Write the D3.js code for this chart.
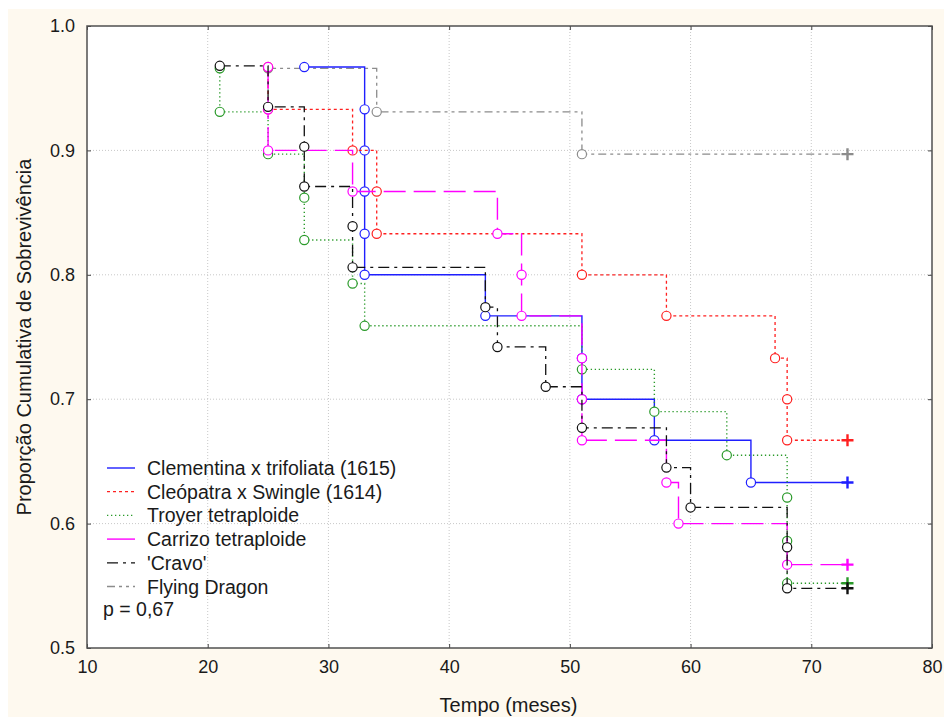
<!DOCTYPE html>
<html>
<head>
<meta charset="utf-8">
<script src="https://cdn.jsdelivr.net/npm/d3@7"></script>
<style>
  body { margin: 0; background: #fff; }
  text { font-family: "Liberation Sans", Arial, sans-serif; fill: #1a1a1a; }
</style>
</head>
<body>
<div id="chart"></div>
<script>
"use strict";

// x ticks, y ticks
var xTicks = [10, 20, 30, 40, 50, 60, 70, 80];
var yTicks = [0.5, 0.6, 0.7, 0.8, 0.9, 1.0];

var seriesNames = ["Clementina x trifoliata (1615)", "Cleópatra x Swingle (1614)", "Troyer tetraploide",
  "Carrizo tetraploide", "'Cravo'", "Flying Dragon"];

// event times (months) and survival after each event
var clemTimes = [28, 33, 33, 33, 33, 33, 43, 51, 51, 57, 65];
var clemVals = [0.967, 0.933, 0.9, 0.867, 0.833, 0.8, 0.767, 0.733, 0.7, 0.667, 0.633];
var cleoTimes = [25, 25, 32, 34, 34, 51, 58, 67, 68, 68];
var cleoVals = [0.967, 0.933, 0.9, 0.867, 0.833, 0.8, 0.767, 0.733, 0.7, 0.667];
var troyTimes = [21, 21, 25, 28, 28, 32, 33, 51, 57, 63, 68, 68, 68];
var troyVals = [0.966, 0.931, 0.897, 0.862, 0.828, 0.793, 0.759, 0.724, 0.690, 0.655, 0.621, 0.586, 0.552];
var carrTimes = [25, 25, 25, 32, 44, 46, 46, 51, 51, 51, 58, 59, 68];
var carrVals = [0.967, 0.933, 0.9, 0.867, 0.833, 0.8, 0.767, 0.733, 0.7, 0.667, 0.633, 0.6, 0.567];
var cravTimes = [21, 25, 28, 28, 32, 32, 43, 44, 48, 51, 58, 60, 68, 68];
var cravVals = [0.968, 0.935, 0.903, 0.871, 0.839, 0.806, 0.774, 0.742, 0.710, 0.677, 0.645, 0.613, 0.581, 0.548];
var flyTimes = [25, 34, 51];
var flyVals = [0.966, 0.931, 0.897];
var censorTime = 73;

var width = 944, height = 717;
var plot = {left: 87, right: 932, top: 26, bottom: 648};

var styles = [
  {color: "#1f1fff", dash: null, w: 1.4},
  {color: "#ff2020", dash: "3,3", w: 1.3},
  {color: "#2a9a2a", dash: "1.3,2.7", w: 1.4},
  {color: "#ff00ff", dash: "22,8", w: 1.4},
  {color: "#111111", dash: "11,5,3,5", w: 1.3},
  {color: "#8c8c8c", dash: "8,4,3,4,3,4", w: 1.3}
];

var allSeries = [
  {t: clemTimes, v: clemVals},
  {t: cleoTimes, v: cleoVals},
  {t: troyTimes, v: troyVals},
  {t: carrTimes, v: carrVals},
  {t: cravTimes, v: cravVals},
  {t: flyTimes, v: flyVals}
].map(function (s, i) {
  var pts = s.t.map(function (t, j) { return {t: t, v: s.v[j]}; });
  return {name: seriesNames[i], pts: pts, end: {t: censorTime, v: s.v[s.v.length - 1]}, style: styles[i]};
});

var x = d3.scaleLinear().domain([10, 80]).range([plot.left, plot.right]);
var y = d3.scaleLinear().domain([0.5, 1.0]).range([plot.bottom, plot.top]);

var svg = d3.select("#chart").append("svg").attr("width", width).attr("height", height);

svg.append("rect").attr("x", 8).attr("y", 9).attr("width", width - 8).attr("height", height - 9).attr("fill", "#fef9ef");
svg.append("rect").attr("x", plot.left).attr("y", plot.top).attr("width", plot.right - plot.left)
  .attr("height", plot.bottom - plot.top).attr("fill", "#fff");

// grid
var grid = svg.append("g").attr("stroke", "#c8c8c8").attr("stroke-dasharray", "1,2").attr("stroke-width", 1);
grid.selectAll(".gx").data(xTicks.slice(1, -1)).enter().append("line")
  .attr("x1", function (d) { return x(d); }).attr("x2", function (d) { return x(d); })
  .attr("y1", plot.top).attr("y2", plot.bottom);
grid.selectAll(".gy").data(yTicks.slice(1, -1)).enter().append("line")
  .attr("y1", function (d) { return y(d); }).attr("y2", function (d) { return y(d); })
  .attr("x1", plot.left).attr("x2", plot.right);

// axes
var xAxis = svg.append("g").attr("transform", "translate(0," + plot.bottom + ")")
  .call(d3.axisBottom(x).tickValues(xTicks).tickSize(-4).tickPadding(12).tickFormat(d3.format("d")));
var yAxis = svg.append("g").attr("transform", "translate(" + plot.left + ",0)")
  .call(d3.axisLeft(y).tickValues(yTicks).tickSize(-4).tickPadding(12).tickFormat(d3.format(".1f")));
var xTop = svg.append("g").attr("transform", "translate(0," + plot.top + ")")
  .call(d3.axisTop(x).tickValues(xTicks).tickSize(-4).tickFormat(""));
var yRight = svg.append("g").attr("transform", "translate(" + plot.right + ",0)")
  .call(d3.axisRight(y).tickValues(yTicks).tickSize(-4).tickFormat(""));
[xAxis, yAxis, xTop, yRight].forEach(function (g) {
  g.select(".domain").remove();
  g.selectAll(".tick line").attr("stroke", "#444");
  g.selectAll("text").style("font-size", "18px").attr("fill", "#1a1a1a")
    .style("font-family", "'Liberation Sans', Arial, sans-serif");
});

// series, drawn last-first so the legend's first entries lie under
var line = d3.line().x(function (d) { return x(d.t); }).y(function (d) { return y(d.v); }).curve(d3.curveStepAfter);
var drawOrder = [5, 0, 1, 2, 3, 4];
drawOrder.forEach(function (i) {
  var s = allSeries[i];
  var g = svg.append("g");
  g.append("path").datum(s.pts.concat([s.end])).attr("d", line).attr("fill", "none")
    .attr("stroke", s.style.color).attr("stroke-width", s.style.w)
    .attr("stroke-dasharray", s.style.dash);
  g.selectAll("circle").data(s.pts).enter().append("circle")
    .attr("cx", function (d) { return x(d.t); }).attr("cy", function (d) { return y(d.v); })
    .attr("r", 4.6).attr("fill", "#fff").attr("stroke", s.style.color).attr("stroke-width", 1.2);
  var ex = x(s.end.t), ey = y(s.end.v);
  g.append("path").attr("d", "M" + (ex - 6) + "," + ey + "H" + (ex + 6) + "M" + ex + "," + (ey - 6) + "V" + (ey + 6))
    .attr("stroke", s.style.color).attr("stroke-width", 2.4);
});

// frame
svg.append("rect").attr("x", plot.left).attr("y", plot.top).attr("width", plot.right - plot.left)
  .attr("height", plot.bottom - plot.top).attr("fill", "none").attr("stroke", "#505050").attr("stroke-width", 1.5);

// legend
var legend = svg.append("g").attr("transform", "translate(107,468)");
allSeries.forEach(function (s, i) {
  var row = legend.append("g").attr("transform", "translate(0," + (i * 23.7) + ")");
  row.append("line").attr("x1", 0).attr("x2", 28).attr("y1", 0).attr("y2", 0)
    .attr("stroke", s.style.color).attr("stroke-width", s.style.w)
    .attr("stroke-dasharray", s.style.dash === "22,8" ? null : s.style.dash);
  row.append("text").attr("x", 40).attr("y", 7).style("font-size", "19.5px").text(s.name);
});
legend.append("text").attr("x", -4).attr("y", 6 * 23.7 + 6).style("font-size", "19.5px").text("p = 0,67");

svg.append("text").attr("x", (plot.left + plot.right) / 2 - 1).attr("y", 712).attr("text-anchor", "middle")
  .style("font-size", "20px").text("Tempo (meses)");
svg.append("text").attr("transform", "translate(31," + ((plot.top + plot.bottom) / 2) + ") rotate(-90)")
  .attr("text-anchor", "middle").style("font-size", "20px").text("Proporção Cumulativa de Sobrevivência");
</script>
</body>
</html>
